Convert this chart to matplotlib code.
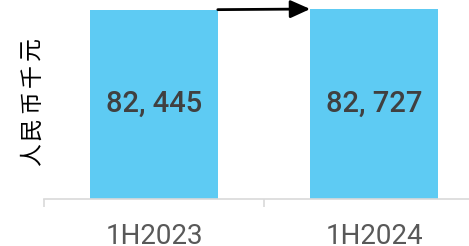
import numpy as np
import matplotlib
matplotlib.use('Agg')
import matplotlib.pyplot as plt

# data
periods = ['1H2023', '1H2024']
values = [82445, 82727]
value_labels = ['82, 445', '82, 727']
unit_label = '人民币千元'

bar_color = '#5ecbf3'
axis_color = '#d9d9d9'

fig = plt.figure(figsize=(4.69, 2.46), dpi=100)
ax = fig.add_axes([44 / 469, 47 / 246, 440 / 469, 199 / 246])

x = np.arange(len(periods))
bar_w = 0.58
ax.bar(x, values, width=bar_w, color=bar_color, zorder=2)

ax.set_xlim(-0.5, 1.5)
ax.set_ylim(0, values[1] * 199 / 190)

# value labels inside bars
for xi, lab, v in zip(x, value_labels, values):
    ax.text(xi, v * 0.5, lab, ha='center', va='center', fontsize=21,
            family='Roboto', fontweight='medium', color='#404040')

# arrow from the top of the first bar to the second
ax.annotate('', xy=(x[1] - bar_w / 2, values[1]),
            xytext=(x[0] + bar_w / 2, values[0]),
            arrowprops=dict(arrowstyle='-|>,head_length=0.4,head_width=0.18',
                            color='black', lw=2, mutation_scale=30,
                            shrinkA=0, shrinkB=0),
            annotation_clip=False)

# axes styling
for s in ['top', 'right', 'left']:
    ax.spines[s].set_visible(False)
ax.spines['bottom'].set_color(axis_color)
ax.spines['bottom'].set_linewidth(1.2)
ax.set_yticks([])
ax.set_xticks([-0.5, 0.5, 1.5], minor=True)
ax.set_xticks(x)
ax.set_xticklabels(periods, family='Roboto', fontsize=20, color='#595959')
ax.tick_params(axis='x', which='major', length=0, pad=17)
ax.tick_params(axis='x', which='minor', length=6, width=1.2, color=axis_color)

# unit label, rotated and letter-spaced
y_bottom, step = 155, 26.5
for i, ch in enumerate(unit_label):
    fig.text(32 / 469, 1 - (y_bottom - i * step) / 246, ch, rotation=90,
             ha='center', va='center', fontsize=16.5,
             family=['Noto Sans CJK SC', 'DejaVu Sans'], color='black')

fig.savefig('out.png', dpi=100)
